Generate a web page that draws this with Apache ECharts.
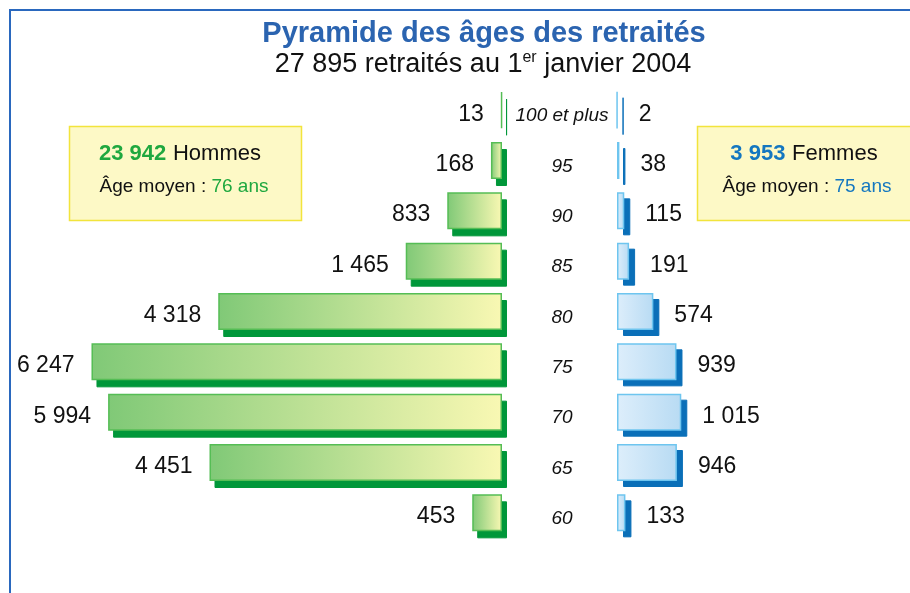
<!DOCTYPE html>
<html>
<head>
<meta charset="utf-8">
<script src="https://cdn.jsdelivr.net/npm/echarts@6/dist/echarts.min.js"></script>
<style>
  html, body { margin: 0; padding: 0; background: #fff; }
  #chart { width: 910px; height: 593px; }
</style>
</head>
<body>
<div id="chart"></div>
<script>
// tranches d'âge, du haut vers le bas
const ages = ['100 et plus', '95', '90', '85', '80', '75', '70', '65', '60']
const hommes = [13, 168, 833, 1465, 4318, 6247, 5994, 4451, 453]
const femmes = [2, 38, 115, 191, 574, 939, 1015, 946, 133]

const FONT = '"Liberation Sans", Arial, Helvetica, sans-serif'

const myChart = echarts.init(document.getElementById('chart'))

// grilles : hommes, femmes, puis leurs ombres décalées
const grids = [
  { left: 42, right: 408, top: 85, bottom: 55 },
  { left: 617, right: 198, top: 85, bottom: 55 },
  { left: 47, right: 403, top: 92, bottom: 48 },
  { left: 623, right: 192, top: 91, bottom: 49 },
]

const hiddenX = (i, max, inverse) => ({
  type: 'value', gridIndex: i, min: 0, max: max, inverse: inverse,
  axisLine: { show: false }, axisTick: { show: false },
  axisLabel: { show: false }, splitLine: { show: false },
})
const hiddenY = (i) => ({
  type: 'category', gridIndex: i, data: ages, inverse: true,
  axisLine: { show: false }, axisTick: { show: false },
  axisLabel: { show: false }, splitLine: { show: false },
})

const ageAxis = hiddenY(1)
ageAxis.axisLabel = {
  show: true,
  align: 'center',
  margin: 55,
  formatter: '{a|{value}}',
  rich: {
    a: {
      fontFamily: FONT,
      fontStyle: 'italic',
      fontSize: 19,
      color: '#111',
      padding: [12, 0, 0, 0],
    },
  },
}

const fmt = (p) => p.value.toLocaleString('fr-FR').replace(/\s/g, ' ')

let option = {
  animation: false,
  backgroundColor: '#fff',
  grid: grids,
  xAxis: [hiddenX(0, 7000, true), hiddenX(1, 1500, false), hiddenX(2, 7000, true), hiddenX(3, 1500, false)],
  yAxis: [hiddenY(0), ageAxis, hiddenY(2), hiddenY(3)],
  graphic: [
    {
      type: 'rect', z: 0, silent: true,
      shape: { x: 10, y: 10, width: 920, height: 600 },
      style: { fill: 'none', stroke: '#2a68be', lineWidth: 2 },
    },
    {
      type: 'text', z: 10,
      style: {
        x: 484, y: 34, align: 'center', verticalAlign: 'middle',
        text: 'Pyramide des âges des retraités',
        font: 'bold 29px ' + FONT, fill: '#2b64b0',
      },
    },
    {
      type: 'text', z: 10,
      style: {
        x: 483, y: 65, align: 'center', verticalAlign: 'middle',
        text: '{n|27 895 retraités au 1}{s|er}{n| janvier 2004}',
        rich: {
          n: { fontFamily: FONT, fontSize: 27, fill: '#111' },
          s: { fontFamily: FONT, fontSize: 16, fill: '#111', padding: [0, 0, 14, 0] },
        },
      },
    },
    {
      type: 'rect', z: 5,
      shape: { x: 69.5, y: 126.5, width: 232, height: 94 },
      style: { fill: '#fdf9c6', stroke: '#f2e43c', lineWidth: 1.5 },
    },
    {
      type: 'text', z: 10,
      style: {
        x: 180, y: 154, align: 'center', verticalAlign: 'middle',
        text: '{v|23 942}  {k|Hommes}',
        rich: {
          v: { fontFamily: FONT, fontSize: 22, fontWeight: 'bold', fill: '#1fa83f' },
          k: { fontFamily: FONT, fontSize: 22, fill: '#111' },
        },
      },
    },
    {
      type: 'text', z: 10,
      style: {
        x: 184, y: 187, align: 'center', verticalAlign: 'middle',
        text: '{k|Âge moyen : }{v|76 ans}',
        rich: {
          k: { fontFamily: FONT, fontSize: 19, fill: '#111' },
          v: { fontFamily: FONT, fontSize: 19, fill: '#1fa83f' },
        },
      },
    },
    {
      type: 'rect', z: 5,
      shape: { x: 697.5, y: 126.5, width: 230, height: 94 },
      style: { fill: '#fdf9c6', stroke: '#f2e43c', lineWidth: 1.5 },
    },
    {
      type: 'text', z: 10,
      style: {
        x: 804, y: 154, align: 'center', verticalAlign: 'middle',
        text: '{v|3 953}  {k|Femmes}',
        rich: {
          v: { fontFamily: FONT, fontSize: 22, fontWeight: 'bold', fill: '#1477c0' },
          k: { fontFamily: FONT, fontSize: 22, fill: '#111' },
        },
      },
    },
    {
      type: 'text', z: 10,
      style: {
        x: 807, y: 187, align: 'center', verticalAlign: 'middle',
        text: '{k|Âge moyen : }{v|75 ans}',
        rich: {
          k: { fontFamily: FONT, fontSize: 19, fill: '#111' },
          v: { fontFamily: FONT, fontSize: 19, fill: '#1477c0' },
        },
      },
    },
  ],
  series: [
    // ombres
    {
      type: 'bar', xAxisIndex: 2, yAxisIndex: 2, z: 1, barWidth: 37, silent: true,
      itemStyle: { color: '#00973a', borderColor: '#00973a', borderWidth: 1 },
      data: hommes,
    },
    {
      type: 'bar', xAxisIndex: 3, yAxisIndex: 3, z: 1, barWidth: 37, silent: true,
      itemStyle: { color: '#0a6fb8', borderColor: '#0a6fb8', borderWidth: 1 },
      data: femmes,
    },
    // barres principales
    {
      name: 'Hommes', type: 'bar', xAxisIndex: 0, yAxisIndex: 0, z: 3, barWidth: 37,
      itemStyle: {
        borderColor: '#55bd55', borderWidth: 1.5,
        color: new echarts.graphic.LinearGradient(0, 0, 1, 0, [
          { offset: 0, color: '#80c977' },
          { offset: 1, color: '#f9f8b3' },
        ]),
      },
      label: {
        show: true, position: 'left', distance: 17, offset: [0, 4],
        fontFamily: FONT, fontSize: 23, color: '#111',
        formatter: fmt,
      },
      data: hommes,
    },
    {
      name: 'Femmes', type: 'bar', xAxisIndex: 1, yAxisIndex: 1, z: 3, barWidth: 37,
      itemStyle: {
        borderColor: '#6ec5ef', borderWidth: 1.5,
        color: new echarts.graphic.LinearGradient(0, 0, 1, 0, [
          { offset: 0, color: '#ddeefb' },
          { offset: 1, color: '#b8dbf3' },
        ]),
      },
      label: {
        show: true, position: 'right', distance: 21, offset: [0, 4],
        fontFamily: FONT, fontSize: 23, color: '#111',
        formatter: fmt,
      },
      data: femmes,
    },
  ],
}

myChart.setOption(option)
</script>
</body>
</html>
